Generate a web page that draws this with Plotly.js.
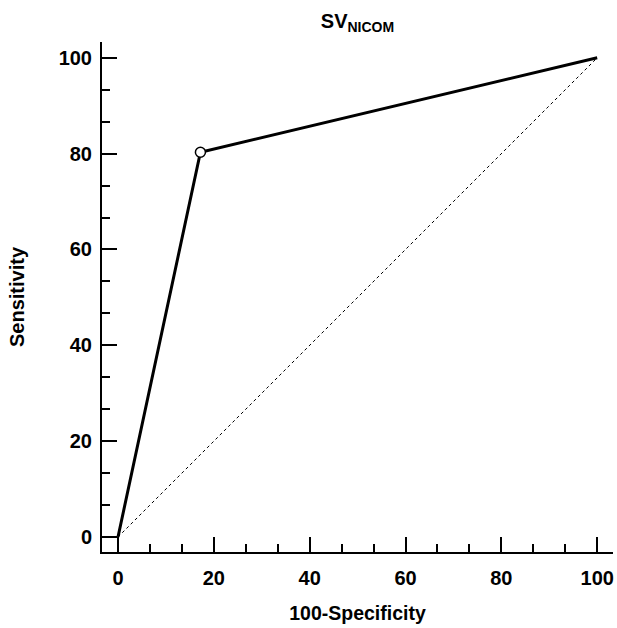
<!DOCTYPE html>
<html>
<head>
<meta charset="utf-8">
<script src="https://cdn.plot.ly/plotly-3.0.1.min.js"></script>
<style>body{margin:0;padding:0;background:#fff}#chart{width:617px;height:628px}</style>
</head>
<body>
<div id="chart"></div>
<script>
const rocX = [0, 17.2, 100];
const rocY = [0, 80.3, 100];
const criterionX = [17.2];
const criterionY = [80.3];
const refX = [0, 100];
const refY = [0, 100];
const tickVals = [0, 20, 40, 60, 80, 100];
const tickText = ['0', '20', '40', '60', '80', '100'];

const FONT = 'Liberation Sans, Arial, sans-serif';

const traces = [
  {x: refX, y: refY, mode: 'lines', line: {color: '#000', width: 1, dash: 'dot'}, hoverinfo: 'skip', cliponaxis: false},
  {x: rocX, y: rocY, mode: 'lines', line: {color: '#000', width: 3}, cliponaxis: false},
  {x: criterionX, y: criterionY, mode: 'markers', marker: {color: '#fff', size: 10, line: {color: '#000', width: 1.5}}, cliponaxis: false}
];

const axisCommon = {
  showline: true, linecolor: '#000', linewidth: 2,
  showgrid: false, zeroline: false,
  ticks: 'inside', ticklen: 15, tickwidth: 2, tickcolor: '#000',
  tickmode: 'array', tickvals: tickVals, ticktext: tickText.map(t => '<b>' + t + '</b>'),
  tickfont: {family: FONT, size: 20, color: '#000'},
  minor: {dtick: 20/3, tick0: 0, ticks: 'inside', ticklen: 8, tickwidth: 2, tickcolor: '#000', showgrid: false}
};

const layout = {
  width: 617, height: 628,
  margin: {l: 102, r: 4, t: 42, b: 76},
  paper_bgcolor: '#fff', plot_bgcolor: '#fff',
  showlegend: false,
  title: {text: '<b>SV<sub>NICOM</sub></b>', x: 0.5, xref: 'paper', y: 0.967, yanchor: 'middle',
          font: {family: FONT, size: 20, color: '#000'}},
  xaxis: Object.assign({}, axisCommon, {
    range: [-3.34, 103.3],
    ticklabelstandoff: 7,
    title: {text: '<b>100-Specificity</b>', font: {family: FONT, size: 19.5, color: '#000'}, standoff: 18}
  }),
  yaxis: Object.assign({}, axisCommon, {
    range: [-3.13, 103.3],
    ticklabelstandoff: 4,
    title: {text: '<b>Sensitivity</b>', font: {family: FONT, size: 20, color: '#000'}, standoff: 29}
  })
};

Plotly.newPlot('chart', traces, layout, {displayModeBar: false, staticPlot: true});
</script>
</body>
</html>
